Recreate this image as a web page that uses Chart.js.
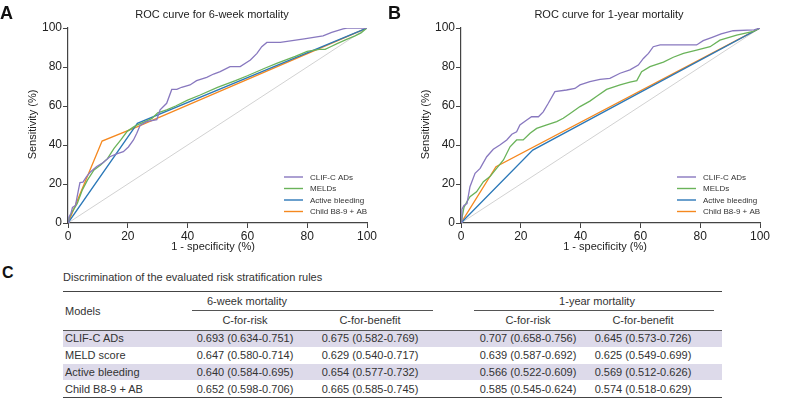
<!DOCTYPE html>
<html>
<head>
<meta charset="utf-8">
<script src="https://cdn.jsdelivr.net/npm/chart.js@4.4.0/dist/chart.umd.min.js"></script>
<style>
body { margin: 0; width: 787px; height: 416px; background: #fff; position: relative; overflow: hidden;
       font-family: "Liberation Sans", Arial, sans-serif; color: #333; }
.box { position: absolute; top: 0; }
.t { position: absolute; font-size: 11px; line-height: 14px; white-space: nowrap; }
.c { transform: translateX(-50%); }
.rule { position: absolute; height: 0; }
.shade { position: absolute; background: #dddaea; }
.letter { position: absolute; font-weight: bold; color: #111; line-height: 1; }
</style>
</head>
<body>
<div class="box" style="left:0;width:390px;height:256px"><canvas id="rocA" width="390" height="256"></canvas></div>
<div class="box" style="left:393px;width:394px;height:256px"><canvas id="rocB" width="394" height="256"></canvas></div>
<div class="letter" style="left:0;top:4px;font-size:18px">A</div>
<div class="letter" style="left:388px;top:4px;font-size:18px">B</div>
<div class="letter" style="left:2px;top:265px;font-size:16px">C</div>
<div id="tbl"></div>
<script>
// ROC curve data, 1 - specificity (%) vs sensitivity (%)
const names = ["CLIF-C ADs", "MELDs", "Active bleeding", "Child B8-9 + AB"];
const colors = ["#8878bf", "#6ab35a", "#2b78b8", "#f5881f"];

// 6-week mortality
const clifA_x = [0, 0.3, 1, 1.5, 2.5, 3, 3.5, 4, 5, 6.2, 7.4, 9.6, 11.8, 14, 16.3, 18.5, 20.2, 21.9, 23, 24.1, 26.3, 29.7, 30.8, 33, 34.7, 36.4, 38, 40.8, 43, 46.4, 48.7, 50.9, 54.2, 57.6, 61, 63.2, 64.8, 66.5, 71, 79, 85.3, 88.2, 92, 93.3, 100];
const clifA_y = [0, 3, 5, 8, 9, 13, 17, 20.7, 21, 23.8, 26, 29, 31, 34, 35.4, 36.6, 39, 42.6, 46, 50, 52, 53, 58, 61.4, 68.5, 68.5, 69.6, 70.8, 73, 74.7, 76.4, 77.6, 80.2, 80.2, 83.6, 87, 90.4, 92.6, 92.6, 94.4, 96, 97.8, 99.5, 100, 100];
const meldA_x = [0, 0.5, 1.5, 3.1, 4.8, 6.5, 8.7, 10.9, 13.2, 15.4, 17.6, 19.8, 22.1, 23.2, 25, 28, 30, 33, 36, 40, 44, 50, 56, 60, 66, 70, 76, 80, 84, 86, 88, 90, 93, 96, 98, 100];
const meldA_y = [0, 3, 6, 10, 17, 22, 27.2, 29.7, 33, 38.3, 42.5, 47, 49.4, 50.3, 51.5, 53.5, 56.5, 58, 60, 63, 65.5, 69.5, 73, 75.5, 79.5, 82, 85.5, 88, 89, 89, 90.5, 92, 94, 96, 97.5, 100];
const bleedA_x = [0, 23.2, 100];
const bleedA_y = [0, 51.1, 100];
const childA_x = [0, 11.4, 23.3, 100];
const childA_y = [0, 42, 49.4, 100];

// 1-year mortality
const clifB_x = [0, 0.3, 1, 2, 3, 4.7, 6.4, 8.6, 10.8, 13, 15.3, 17, 18.6, 19.7, 22, 23.6, 25.9, 27.5, 29.2, 31.4, 35.3, 38.1, 39.8, 43.1, 46.5, 49.8, 53.2, 56.5, 59.3, 61, 62.7, 64.3, 66.6, 78.8, 81, 84, 87, 91, 98, 100];
const clifB_y = [0, 7, 9, 10, 18.6, 25.5, 28, 34, 37.8, 40, 42.6, 45.5, 46.8, 50.3, 52.8, 54.5, 54.5, 57, 61.4, 67.4, 68.2, 69, 70.8, 72.5, 73.7, 74.2, 76.8, 78.5, 81, 84.4, 87, 90.4, 91.3, 91.3, 93.5, 95.2, 97, 98.6, 99, 100];
const meldB_x = [0, 1, 2, 3, 5.2, 7.5, 9.7, 11.9, 14.2, 16.4, 18.6, 20.8, 23.1, 25.3, 28.7, 32, 34.2, 36.5, 39.8, 43.1, 45.4, 48.7, 53.2, 56.5, 58.8, 60.4, 63.2, 67.7, 71, 74.4, 78.8, 83.3, 86.6, 92.2, 97.8, 100];
const meldB_y = [0, 8, 11, 13.5, 16, 21.2, 23.8, 28, 32.3, 39.1, 42.6, 42.6, 46, 48.5, 50.3, 52, 53.7, 56.2, 59.7, 62.5, 65, 68.5, 70.8, 72.3, 73, 77.6, 80.2, 82.5, 85, 87, 88.7, 90.4, 93.8, 96.4, 98.3, 100];
const bleedB_x = [0, 24, 100];
const bleedB_y = [0, 37.4, 100];
const childB_x = [0, 11.7, 100];
const childB_y = [0, 28.9, 100];

const axisTicks = [0, 20, 40, 60, 80, 100];

// table C
const tableTitle = "Discrimination of the evaluated risk stratification rules";
const models = ["CLIF-C ADs", "MELD score", "Active bleeding", "Child B8-9 + AB"];
const wkRisk = [[0.693, 0.634, 0.751], [0.647, 0.580, 0.714], [0.640, 0.584, 0.695], [0.652, 0.598, 0.706]];
const wkBenefit = [[0.675, 0.582, 0.769], [0.629, 0.540, 0.717], [0.654, 0.577, 0.732], [0.665, 0.585, 0.745]];
const yrRisk = [[0.707, 0.658, 0.756], [0.639, 0.587, 0.692], [0.566, 0.522, 0.609], [0.585, 0.545, 0.624]];
const yrBenefit = [[0.645, 0.573, 0.726], [0.625, 0.549, 0.699], [0.569, 0.512, 0.626], [0.574, 0.518, 0.629]];

Chart.defaults.font.family = '"Liberation Sans", Arial, sans-serif';
Chart.defaults.color = '#222';

const pts = (xs, ys) => xs.map((x, i) => ({ x: x, y: ys[i] }));

// titles + axis labels + legend inside the plot
const decoPlugin = {
    id: 'deco',
    afterDraw(chart) {
        const o = chart.options.plugins.deco;
        const ctx = chart.ctx;
        const a = chart.chartArea;
        ctx.save();
        ctx.fillStyle = '#222';
        ctx.textAlign = 'center';
        ctx.textBaseline = 'middle';
        ctx.font = '11px "Liberation Sans", Arial, sans-serif';
        ctx.fillText(o.title, o.titleX, 15);
        ctx.fillText('1 - specificity (%)', o.xTitleX, 246.5);
        ctx.translate(33, (a.top + a.bottom) / 2 - 1);
        ctx.rotate(-Math.PI / 2);
        ctx.fillText('Sensitivity (%)', 0, 0);
        ctx.restore();

        ctx.save();
        ctx.font = '8px "Liberation Sans", Arial, sans-serif';
        ctx.textBaseline = 'middle';
        ctx.textAlign = 'left';
        const x0 = a.right - 83;
        names.forEach((n, i) => {
            const y = 177 + i * 11.5;
            ctx.strokeStyle = colors[i];
            ctx.lineWidth = 1.4;
            ctx.beginPath();
            ctx.moveTo(x0, y);
            ctx.lineTo(x0 + 19, y);
            ctx.stroke();
            ctx.fillStyle = '#333';
            ctx.fillText(n, x0 + 26, y + 0.5);
        });
        ctx.restore();
    }
};

function makeRoc(id, series, deco, rightPad) {
    const ds = series.map((s, i) => ({
        label: names[i],
        data: pts(s[0], s[1]),
        borderColor: colors[i],
        borderWidth: 1.3,
        pointRadius: 0,
        tension: 0,
        fill: false
    }));
    ds.push({
        label: 'ref',
        data: pts([0, 100], [0, 100]),
        borderColor: '#d2d2d2',
        borderWidth: 1,
        pointRadius: 0
    });
    const axis = (fit) => ({
        type: 'linear',
        min: 0,
        max: 100,
        afterBuildTicks: s => { s.ticks = axisTicks.map(v => ({ value: v })); },
        ticks: { color: '#222', font: { size: 12 }, padding: 1, maxRotation: 0 },
        grid: { drawOnChartArea: false, tickLength: 5, color: '#444' },
        border: { color: '#444', width: 1.2 },
        afterFit: fit
    });
    return new Chart(document.getElementById(id), {
        type: 'line',
        data: { datasets: ds },
        options: {
            responsive: false,
            animation: false,
            layout: { padding: { top: 28, right: rightPad, left: 0, bottom: 0 } },
            plugins: { legend: { display: false }, tooltip: { enabled: false }, deco: deco },
            scales: {
                x: axis(s => { s.height = 33; }),
                y: axis(s => { s.width = 68; })
            }
        },
        plugins: [decoPlugin]
    });
}

makeRoc('rocA', [[clifA_x, clifA_y], [meldA_x, meldA_y], [bleedA_x, bleedA_y], [childA_x, childA_y]],
    { title: 'ROC curve for 6-week mortality', titleX: 212, xTitleX: 213 }, 23);
makeRoc('rocB', [[clifB_x, clifB_y], [meldB_x, meldB_y], [bleedB_x, bleedB_y], [childB_x, childB_y]],
    { title: 'ROC curve for 1-year mortality', titleX: 216, xTitleX: 212 }, 27);

// Table
const tbl = document.getElementById('tbl');
const fmt = v => v[0].toFixed(3) + ' (' + v[1].toFixed(3) + '-' + v[2].toFixed(3) + ')';
function text(s, x, cy, center) {
    const d = document.createElement('div');
    d.className = 't' + (center ? ' c' : '');
    d.style.left = x + 'px';
    d.style.top = (cy - 7) + 'px';
    d.textContent = s;
    tbl.appendChild(d);
}
function rule(x1, x2, y, w, col) {
    const d = document.createElement('div');
    d.className = 'rule';
    d.style.left = x1 + 'px';
    d.style.width = (x2 - x1) + 'px';
    d.style.top = y + 'px';
    d.style.borderTop = w + 'px solid ' + col;
    tbl.appendChild(d);
}
const rowTop = 330, rowH = 16.75;
models.forEach((m, i) => {
    if (i % 2 === 0) {
        const s = document.createElement('div');
        s.className = 'shade';
        s.style.left = '63px';
        s.style.width = '659px';
        s.style.top = (rowTop + i * rowH) + 'px';
        s.style.height = rowH + 'px';
        tbl.appendChild(s);
    }
});
text(tableTitle, 63, 277, false);
rule(63, 722, 290.5, 1.5, '#444');
text('6-week mortality', 247, 301, true);
text('1-year mortality', 597, 301, true);
rule(192, 433, 310, 1, '#555');
rule(474, 714, 310, 1, '#555');
text('Models', 65, 310.5, false);
const colX = [245, 370, 528, 643];
['C-for-risk', 'C-for-benefit', 'C-for-risk', 'C-for-benefit'].forEach((s, i) => text(s, colX[i], 320, true));
rule(63, 722, 329.5, 1, '#555');
models.forEach((m, i) => {
    const cy = rowTop + i * rowH + rowH / 2;
    text(m, 65, cy, false);
    [wkRisk, wkBenefit, yrRisk, yrBenefit].forEach((col, j) => text(fmt(col[i]), colX[j], cy, true));
});
rule(63, 722, 396.5, 1.5, '#444');
</script>
</body>
</html>
